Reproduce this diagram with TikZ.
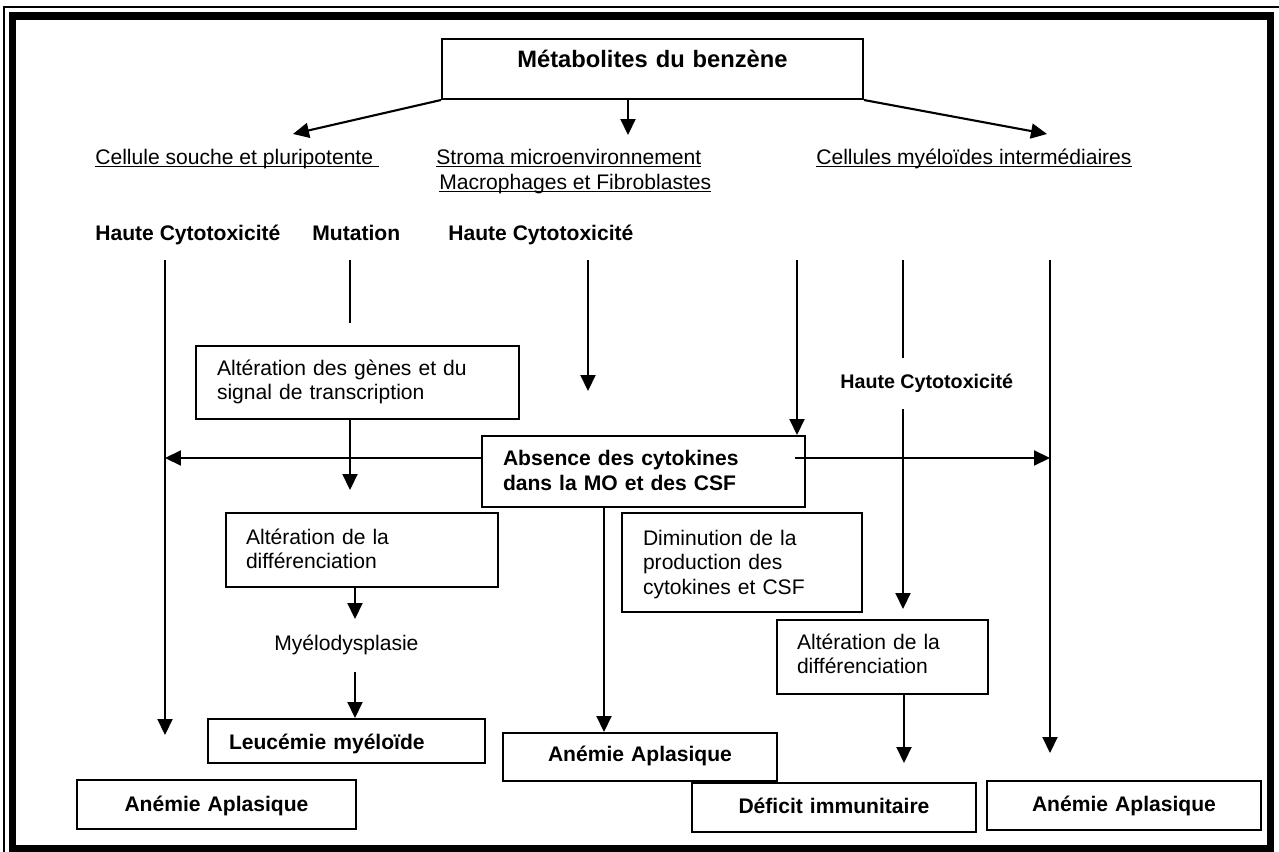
\documentclass[tikz,border=0pt]{standalone}
\usepackage{fontspec}
\setmainfont{Liberation Sans}
\usetikzlibrary{arrows.meta}
\newsavebox{\soulbox}
\newcommand{\souligne}[1]{\sbox{\soulbox}{#1}\rlap{\rule[-1.9pt]{\wd\soulbox}{0.7pt}}\usebox{\soulbox}}

\begin{document}
\begin{tikzpicture}[x=0.02cm, y=-0.02cm,
		every node/.style={font=\fontsize{12}{14}\selectfont},
		cadre/.style={draw, line width=1.15pt, anchor=north west, inner ysep=0pt, align=left},
		milieu/.style={cadre, align=center, inner xsep=0.1cm},
		gras/.style={font=\bfseries\fontsize{12}{14.3}\selectfont},
		etiq/.style={anchor=base west, inner sep=0pt},
		fleche/.style={-{Triangle[length=0.32cm,width=0.3cm]}, line width=1.2pt},
		trait/.style={line width=1.2pt}]
		\useasboundingbox (0,0) rectangle (1279,852);
		\fill[white] (0,0) rectangle (1279,852);
		\draw[line width=0.6pt] (4,7) rectangle (1290,870);
		\draw[line width=4pt] (12.5,16) rectangle (1270.5,848.5);

		\node[milieu, font=\bfseries\fontsize{13.5}{16}\selectfont, text width=8.22cm, text height=0.56cm, text depth=0.64cm] (meta) at (441,38) {Métabolites du benzène};

		\node[etiq] (cellule) at (95,164) {\souligne{Cellule souche et pluripotente\ }};
		\node[etiq] (stromaA) at (436,164) {\souligne{Stroma microenvironnement}};
		\node[etiq] (stromaB) at (439,189) {\souligne{Macrophages et Fibroblastes}};
		\node[etiq] (myelo) at (816,164) {\souligne{Cellules myéloïdes intermédiaires}};

		\node[etiq, gras] (hcA) at (95,240) {Haute Cytotoxicité};
		\node[etiq, gras] (mut) at (312,240) {Mutation};
		\node[etiq, gras] (hcB) at (448,240) {Haute Cytotoxicité};
		\node[etiq, font=\bfseries\fontsize{11.2}{13}\selectfont] (hcC) at (840,388) {Haute Cytotoxicité};

		\node[cadre, inner xsep=0.42cm, text width=5.62cm, text height=0.58cm, text depth=0.88cm] (genes) at (195,345) {Altération des gènes et du\\signal de transcription};
		\node[cadre, gras, inner xsep=0.42cm, text width=5.62cm, text height=0.58cm, text depth=0.84cm] (absence) at (481,435) {Absence des cytokines\\dans la MO et des CSF};
		\node[cadre, inner xsep=0.40cm, text width=4.64cm, text height=0.62cm, text depth=0.86cm] (altG) at (225,512) {Altération de la\\différenciation};
		\node[cadre, inner xsep=0.42cm, text width=3.96cm, text height=0.64cm, text depth=1.34cm] (dimin) at (621,512) {Diminution de la\\production des\\cytokines et CSF};
		\node[cadre, inner xsep=0.40cm, text width=3.42cm, text height=0.58cm, text depth=0.90cm] (altD) at (776,619) {Altération de la\\différenciation};
		\node[etiq] (dysp) at (274,650) {Myélodysplasie};
		\node[cadre, gras, inner xsep=0.42cm, text width=4.70cm, text height=0.60cm, text depth=0.28cm] (leuc) at (207,718) {Leucémie myéloïde};
		\node[milieu, gras, text width=5.38cm, text height=0.62cm, text depth=0.36cm] (anemL) at (76,779) {Anémie Aplasique};
		\node[milieu, gras, text width=5.28cm, text height=0.56cm, text depth=0.40cm] (anemM) at (502,732) {Anémie Aplasique};
		\node[milieu, gras, text width=5.48cm, text height=0.60cm, text depth=0.38cm] (defic) at (691,782) {Déficit immunitaire};
		\node[milieu, gras, text width=5.28cm, text height=0.60cm, text depth=0.38cm] (anemR) at (986,780) {Anémie Aplasique};

		\coordinate (cA) at (293,134);
		\coordinate (cB) at (628,135);
		\coordinate (cC) at (1047,134);
		\coordinate (t1) at (165,260);
		\coordinate (t2) at (350,260);
		\coordinate (t3) at (588,260);
		\coordinate (t4) at (797,260);
		\coordinate (t5) at (903,260);
		\coordinate (t6) at (1050,260);
		\coordinate (h) at (0,458);
		\coordinate (hR) at (795,458);

		\draw[fleche] (meta.south west) -- (cA);
		\draw[fleche] (meta.south -| cB) -- (cB);
		\draw[fleche] (meta.south east) -- (cC);

		\draw[fleche] (t1) -- (165,735);
		\draw[trait] (t2) -- (350,323);
		\draw[fleche] (t3) -- (588,391);
		\draw[fleche] (t4) -- (absence.north -| t4);
		\draw[trait] (t5) -- (903,358);
		\draw[fleche] (903,409) -- (903,609);
		\draw[fleche] (t6) -- (1050,753);

		\draw[fleche] (genes.south -| t2) -- (350,490);
		\draw[fleche] (absence.west |- h) -- (t1 |- h);
		\draw[fleche] (hR) -- (t6 |- h);
		\draw[fleche] (absence.south -| 604,0) -- (anemM.north -| 604,0);
		\draw[fleche] (altG.south -| 355,0) -- (355,619);
		\draw[fleche] (355,672) -- (leuc.north -| 355,0);
		\draw[fleche] (altD.south -| 904,0) -- (904,763);
\end{tikzpicture}
\end{document}
